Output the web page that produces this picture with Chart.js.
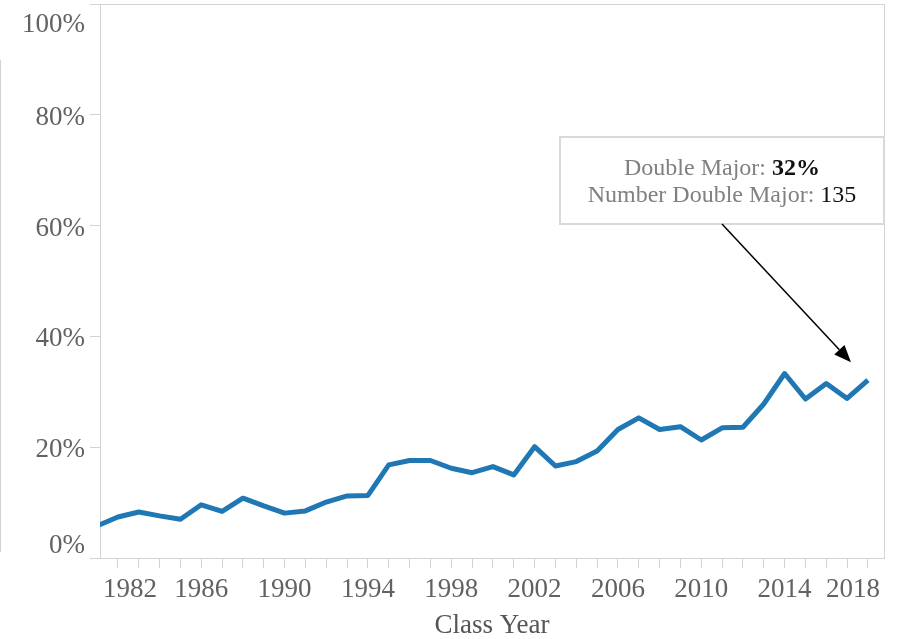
<!DOCTYPE html>
<html>
<head>
<meta charset="utf-8">
<script src="https://cdn.jsdelivr.net/npm/chart.js@4.4.0/dist/chart.umd.min.js"></script>
<style>
html, body { margin: 0; padding: 0; background: #fff; }
</style>
</head>
<body>
<canvas id="myChart" width="900" height="639"></canvas>
<script>

// class years and share of the class with a double major (%)
var years = [1981, 1982, 1983, 1984, 1985, 1986, 1987, 1988, 1989, 1990,
             1991, 1992, 1993, 1994, 1995, 1996, 1997, 1998, 1999, 2000,
             2001, 2002, 2003, 2004, 2005, 2006, 2007, 2008, 2009, 2010,
             2011, 2012, 2013, 2014, 2015, 2016, 2017, 2018];
var doubleMajorPct = [5.8, 7.4, 8.3, 7.6, 7.0, 9.6, 8.4, 10.8, 9.4, 8.1,
                      8.5, 10.1, 11.2, 11.3, 16.8, 17.6, 17.6, 16.2, 15.4, 16.5,
                      15.0, 20.1, 16.6, 17.4, 19.3, 23.2, 25.3, 23.2, 23.7, 21.3,
                      23.5, 23.6, 27.8, 33.3, 28.7, 31.5, 28.8, 32.1];

var yTickValues = [0, 20, 40, 60, 80, 100];
var xLabelYears = [1982, 1986, 1990, 1994, 1998, 2002, 2006, 2010, 2014, 2018];

// tooltip-style callout on the last year
var calloutYear = 2018;
var calloutPct = '32%';
var calloutCount = '135';

var tickFont = '27px "Liberation Serif"';
var noteFont = '24px "Liberation Serif"';
var noteBold = 'bold 24px "Liberation Serif"';


var decorations = {
	id: 'decorations',
	afterDraw: function(chart) {
		var ctx = chart.ctx;
		var a = chart.chartArea;
		var xs = chart.scales.x;
		var ys = chart.scales.y;

		ctx.save();

		// frame: top and right edges, plus the faint line at the far left
		ctx.strokeStyle = '#d3d3d3';
		ctx.lineWidth = 1;
		ctx.beginPath();
		ctx.moveTo(a.left, a.top + 0.5);
		ctx.lineTo(a.right + 0.5, a.top + 0.5);
		ctx.lineTo(a.right + 0.5, a.bottom);
		ctx.stroke();
		ctx.beginPath();
		ctx.moveTo(0.5, 60);
		ctx.lineTo(0.5, a.bottom - 6);
		ctx.stroke();

		// y labels, the end ones pulled inside the frame
		ctx.font = tickFont;
		ctx.fillStyle = '#626262';
		ctx.textAlign = 'right';
		ctx.textBaseline = 'alphabetic';
		for (var i = 0; i < yTickValues.length; i++) {
			var py = ys.getPixelForValue(yTickValues[i]) + 10;
			py = Math.min(Math.max(py, a.top + 28), a.bottom - 5);
			ctx.fillText(yTickValues[i] + '%', a.left - 15, py);
		}

		// x labels
		ctx.textAlign = 'left';
		for (var j = 0; j < xLabelYears.length; j++) {
			var txt = String(xLabelYears[j]);
			var w = ctx.measureText(txt).width;
			var px = xs.getPixelForValue(xLabelYears[j]) - w / 2;
			px = Math.min(Math.max(px, a.left + 3), a.right - 4 - w);
			ctx.fillText(txt, px, a.bottom + 39);
		}

		// axis title
		ctx.textAlign = 'center';
		ctx.fillStyle = '#555';
		ctx.fillText('Class Year', (a.left + a.right) / 2, a.bottom + 75);

		// callout box
		var bw = 324, bh = 87;
		var bx = a.right - bw, by = 137;
		ctx.fillStyle = '#fff';
		ctx.fillRect(bx, by, bw, bh);
		ctx.strokeStyle = '#d9d9d9';
		ctx.lineWidth = 2;
		ctx.strokeRect(bx, by, bw, bh);

		var cx = bx + bw / 2;
		ctx.textAlign = 'left';
		ctx.font = noteFont;
		var t1 = 'Double Major: ';
		var w1 = ctx.measureText(t1).width;
		ctx.font = noteBold;
		var w2 = ctx.measureText(calloutPct).width;
		var sx = cx - (w1 + w2) / 2;
		ctx.font = noteFont;
		ctx.fillStyle = '#808080';
		ctx.fillText(t1, sx, by + 38);
		ctx.font = noteBold;
		ctx.fillStyle = '#111';
		ctx.fillText(calloutPct, sx + w1, by + 38);

		ctx.font = noteFont;
		var t3 = 'Number Double Major: ';
		var w3 = ctx.measureText(t3).width;
		var w4 = ctx.measureText(calloutCount).width;
		sx = cx - (w3 + w4) / 2;
		ctx.fillStyle = '#808080';
		ctx.fillText(t3, sx, by + 65);
		ctx.fillStyle = '#111';
		ctx.fillText(calloutCount, sx + w3, by + 65);

		// arrow from the box to the last point
		var k = years.indexOf(calloutYear);
		var tipX = xs.getPixelForValue(calloutYear) - 17;
		var tipY = ys.getPixelForValue(doubleMajorPct[k]) - 18;
		var sx0 = cx, sy0 = by + bh;
		var ang = Math.atan2(tipY - sy0, tipX - sx0);
		var hl = 17, hw = 7;
		var baseX = tipX - hl * Math.cos(ang), baseY = tipY - hl * Math.sin(ang);
		ctx.strokeStyle = '#000';
		ctx.lineWidth = 1.5;
		ctx.beginPath();
		ctx.moveTo(sx0, sy0);
		ctx.lineTo(baseX, baseY);
		ctx.stroke();
		ctx.fillStyle = '#000';
		ctx.beginPath();
		ctx.moveTo(tipX, tipY);
		ctx.lineTo(baseX + hw * Math.sin(ang), baseY - hw * Math.cos(ang));
		ctx.lineTo(baseX - hw * Math.sin(ang), baseY + hw * Math.cos(ang));
		ctx.closePath();
		ctx.fill();

		ctx.restore();
	}
};


var points = [];
for (var n = 0; n < years.length; n++) {
	points.push({ x: years[n], y: doubleMajorPct[n] });
}

new Chart("myChart", {
	type: "line",
	data: {
		datasets: [{
			label: 'Double Major',
			data: points,
			borderColor: "#1f77b4",
			borderWidth: 5,
			borderJoinStyle: 'round',
			pointRadius: 0,
			tension: 0,
			fill: false,
			clip: 0
		}]
	},
	options: {
		responsive: false,
		devicePixelRatio: 1,
		animation: false,
		layout: {
			padding: { left: 90, top: 4, right: 16, bottom: 71 }
		},
		scales: {
			x: {
				type: 'linear',
				min: 1981.14,
				max: 2018.77,
				afterBuildTicks: function(scale) {
					scale.ticks = years.slice(1).map(function(v) { return { value: v }; });
				},
				ticks: { display: false },
				grid: { drawOnChartArea: false, drawTicks: true, tickLength: 10, color: '#d3d3d3' },
				border: { display: true, color: '#d3d3d3' }
			},
			y: {
				min: 0,
				max: 100,
				afterBuildTicks: function(scale) {
					scale.ticks = yTickValues.map(function(v) { return { value: v }; });
				},
				ticks: { display: false },
				grid: { drawOnChartArea: false, drawTicks: true, tickLength: 10, color: '#d3d3d3' },
				border: { display: true, color: '#d3d3d3' }
			}
		},
		plugins: {
			legend: { display: false },
			tooltip: { enabled: false }
		}
	},
	plugins: [decorations]
});

</script>
</body>
</html>
